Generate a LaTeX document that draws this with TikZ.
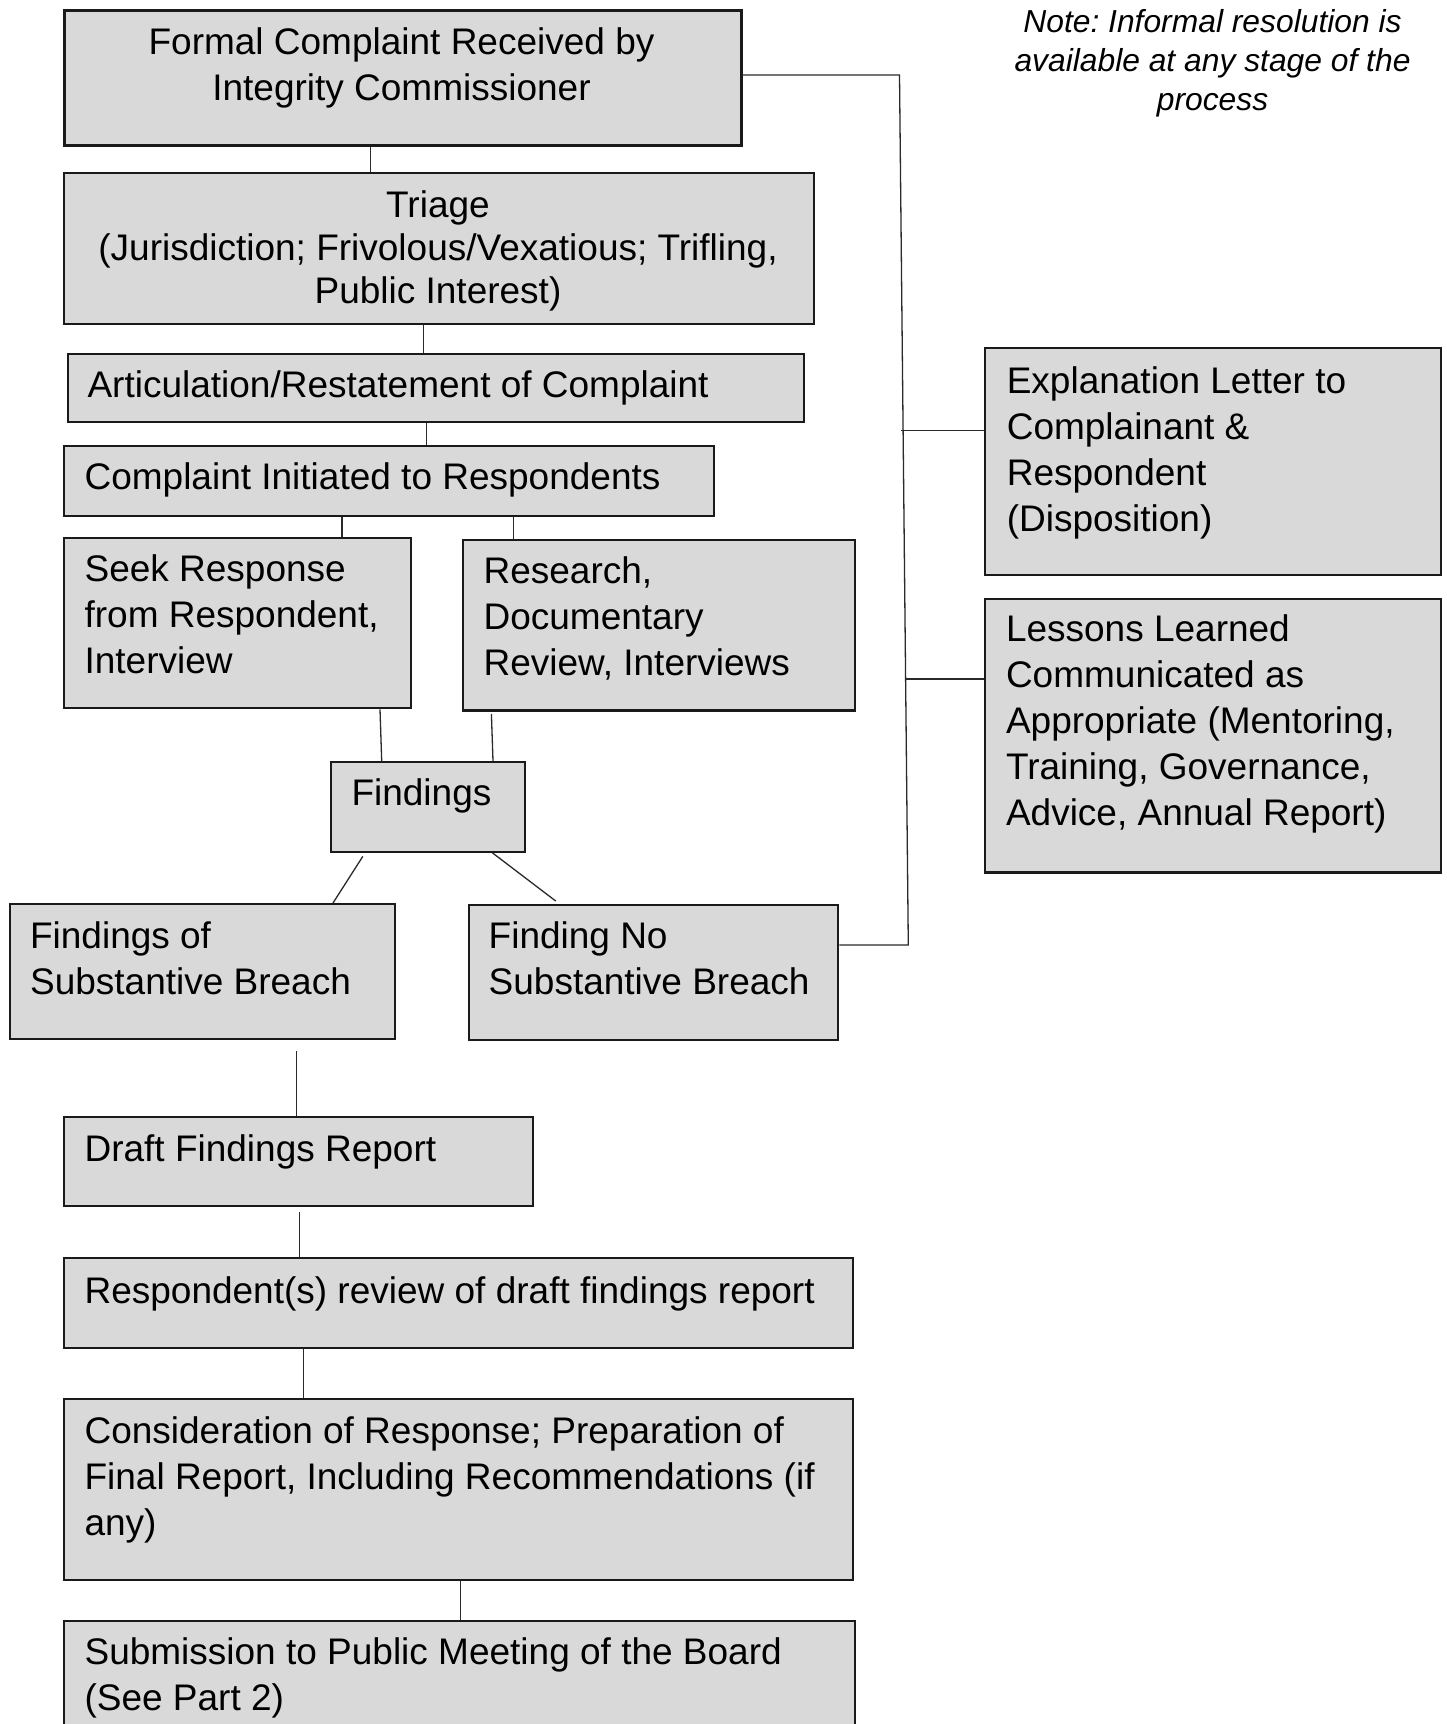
\documentclass[tikz,border=0pt]{standalone}
\usepackage{fontspec}
\setmainfont{Liberation Sans}
\frenchspacing
\definecolor{boxfill}{HTML}{D9D9D9}
\definecolor{edgecol}{HTML}{1A1A1A}
\definecolor{linkcol}{HTML}{2A2A2A}
\newcommand\mylines[2][l]{\begin{tabular}[t]{@{}#1@{}}#2\end{tabular}}
\begin{document}
\begin{tikzpicture}[x=1pt,y=-1pt,
  box/.style={draw=edgecol, line width=2.3pt, fill=boxfill, anchor=north west, inner sep=0pt},
  txt/.style={inner sep=0pt, anchor=base west, font=\fontsize{37}{46}\selectfont},
  link/.style={draw=linkcol, line width=1.3pt}]
\useasboundingbox (0,0) rectangle (1446,1724);
\fill[white] (0,0) rectangle (1446,1724);

% boxes
\node[box, line width=2.7pt, minimum width=677, minimum height=135] (recv) at (63,9) {};
\node[box, minimum width=750, minimum height=151] (triage) at (63,172) {};
\node[box, minimum width=735.5, minimum height=68] (artic) at (67,353) {};
\node[box, minimum width=650, minimum height=69.5] (init) at (63,445) {};
\node[box, minimum width=347, minimum height=170.5] (seek) at (63,536.5) {};
\node[box, minimum width=392, minimum height=170.4] (research) at (462,539) {};
\node[box, minimum width=193.5, minimum height=89.6] (find) at (330,761) {};
\node[box, minimum width=385.4, minimum height=135] (breach) at (8.6,903) {};
\node[box, minimum width=369, minimum height=135] (nobreach) at (468,904) {};
\node[box, minimum width=469, minimum height=89.5] (draft) at (63,1115.5) {};
\node[box, minimum width=789, minimum height=89.7] (resp) at (63,1257) {};
\node[box, minimum width=789, minimum height=181] (cons) at (63,1398) {};
\node[box, minimum width=791, minimum height=200] (sub) at (63,1620) {};
\node[box, minimum width=456, minimum height=227] (expl) at (984,347) {};
\node[box, minimum width=456, minimum height=273.4] (lessons) at (984,598) {};

% texts
\node[txt, anchor=base] (recvt) at (401.5,54.4) {\mylines[c]{Formal Complaint Received by\\Integrity Commissioner}};
\node[txt, anchor=base, font=\fontsize{37}{43}\selectfont] (triaget) at (438,217) {\mylines[c]{Triage\\(Jurisdiction; Frivolous/Vexatious; Trifling,\\Public Interest)}};
\node[txt] (artict) at (87.3,397.7) {Articulation/Restatement of Complaint};
\node[txt] (initt) at (84.4,489.7) {Complaint Initiated to Respondents};
\node[txt] (seekt) at (84.4,581.3) {\mylines{Seek Response\\from Respondent,\\Interview}};
\node[txt] (researcht) at (483.4,583) {\mylines{Research,\\Documentary\\Review, Interviews}};
\node[txt] (findt) at (351.3,805.8) {Findings};
\node[txt] (breacht) at (29.9,948) {\mylines{Findings of\\Substantive Breach}};
\node[txt] (nobreacht) at (488.5,948.7) {\mylines{Finding No\\Substantive Breach}};
\node[txt] (draftt) at (84.4,1161.3) {Draft Findings Report};
\node[txt] (respt) at (84.4,1303) {Respondent(s) review of draft findings report};
\node[txt] (const) at (84.4,1443.6) {\mylines{Consideration of Response; Preparation of\\Final Report, Including Recommendations (if\\any)}};
\node[txt] (subt) at (84.4,1664) {\mylines{Submission to Public Meeting of the Board\\(See Part 2)}};
\node[txt] (explt) at (1006.6,393) {\mylines{Explanation Letter to\\Complainant \&\\Respondent\\(Disposition)}};
\node[txt] (lessonst) at (1005.8,641.8) {\mylines{Lessons Learned\\Communicated as\\Appropriate (Mentoring,\\Training, Governance,\\Advice, Annual Report)}};
\node[txt, anchor=base, font=\fontsize{31.8}{39}\selectfont\itshape] (note) at (1212.5,32) {\mylines[c]{Note: Informal resolution is\\available at any stage of the\\process}};

% connectors (main column)
\draw[link] (recv.south -| 370.8,0) -- (triage.north -| 370.8,0);
\draw[link] (triage.south -| 423.6,0) -- (artic.north -| 423.6,0);
\draw[link] (artic.south -| 426.5,0) -- (init.north -| 426.5,0);
\draw[link] (init.south -| 342,0) -- (seek.north -| 342,0);
\draw[link] (init.south -| 513.7,0) -- (research.north -| 513.7,0);
\draw[link] (seek.south -| 380,0) -- (find.north -| 381.7,0);
\coordinate (rb) at (491.4,714);
\draw[link] (rb) -- (find.north -| 493,0);
\coordinate (fl) at (362.8,856.4);
\draw[link] (fl) -- (breach.north -| 333,0);
\coordinate (nr) at (555.7,901);
\draw[link] (find.south -| 492.5,0) -- (nr);
\coordinate (bd) at (296.2,1051);
\draw[link] (bd) -- (draft.north -| 296.2,0);
\coordinate (dr) at (299.7,1212);
\draw[link] (dr) -- (resp.north -| 299.7,0);
\draw[link] (resp.south -| 303.7,0) -- (cons.north -| 303.7,0);
\draw[link] (cons.south -| 460.4,0) -- (sub.north -| 460.4,0);

% right bracket
\coordinate (vt) at (899.5,75);
\coordinate (vb) at (908.3,945);
\draw[link] (recv.east |- vt) -- (vt) -- (vb) -- (nobreach.east |- vb);
\coordinate (ve) at (901.3,430.5);
\draw[link] (ve) -- (expl.west |- ve);
\coordinate (vl) at (905,679);
\draw[link] (vl) -- (lessons.west |- vl);
\end{tikzpicture}
\end{document}
